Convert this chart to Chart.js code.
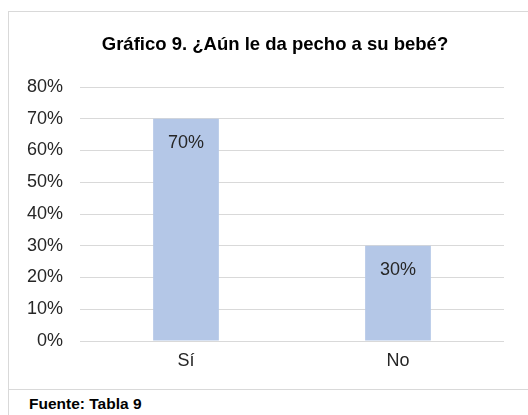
<!DOCTYPE html>
<html>
<head>
<meta charset="utf-8">
<script src="https://cdn.jsdelivr.net/npm/chart.js@4/dist/chart.umd.min.js"></script>
<style>
  html, body { margin: 0; padding: 0; background: #fff; width: 528px; height: 415px; overflow: hidden; position: relative; font-family: "Liberation Sans", Arial, sans-serif; }
  #box { position: absolute; left: 8px; top: 11px; width: 540px; height: 379px; border: 1px solid #d9d9d9; box-sizing: border-box; }
  #leftline { position: absolute; left: 8px; top: 389px; width: 1px; height: 30px; background: #d9d9d9; }
  #wrap { position: absolute; left: 0; top: 0; width: 528px; height: 389px; }
  #title { position: absolute; left: 75px; width: 400px; top: 33px; line-height: 22px; text-align: center; font-size: 18.5px; font-weight: bold; color: #000; white-space: nowrap; }
  #fuente { position: absolute; left: 29px; top: 395px; font-size: 15.5px; line-height: 18px; font-weight: bold; color: #000; white-space: nowrap; }
</style>
</head>
<body>
<div id="box"></div>
<div id="leftline"></div>
<div id="wrap"><canvas id="c" width="528" height="389"></canvas></div>
<div id="title"></div>
<div id="fuente">Fuente: Tabla 9</div>
<script>
const categories = ["Sí", "No"];
const values = [70, 30];
const yTicks = [0, 10, 20, 30, 40, 50, 60, 70, 80];
const titleText = "Gráfico 9. ¿Aún le da pecho a su bebé?";
document.getElementById("title").textContent = titleText;

const FONT = "'Liberation Sans', Arial, sans-serif";

const labelPlugin = {
  id: "barLabels",
  afterDatasetsDraw(chart) {
    const ctx = chart.ctx;
    const meta = chart.getDatasetMeta(0);
    ctx.save();
    ctx.font = "18px " + FONT;
    ctx.fillStyle = "#262626";
    ctx.textAlign = "center";
    ctx.textBaseline = "middle";
    meta.data.forEach((bar, i) => {
      ctx.fillText(values[i] + "%", bar.x, bar.y + 24);
    });
    ctx.restore();
  }
};

new Chart(document.getElementById("c"), {
  type: "bar",
  data: {
    labels: categories,
    datasets: [{
      data: values,
      backgroundColor: "#b4c7e7",
      borderWidth: 0,
      categoryPercentage: 1,
      barPercentage: 0.31
    }]
  },
  options: {
    responsive: false,
    animation: false,
    layout: { padding: { left: 0, right: 24, top: 87, bottom: 0 } },
    plugins: {
      legend: { display: false },
      tooltip: { enabled: false },
      title: { display: false }
    },
    scales: {
      x: {
        afterFit(s) { s.height = 48; },
        grid: { display: false, drawTicks: false },
        border: { display: false },
        ticks: { color: "#262626", padding: 9, font: { family: FONT, size: 18 } }
      },
      y: {
        min: 0,
        max: 80,
        afterFit(s) { s.width = 80; },
        afterBuildTicks(s) { s.ticks = yTicks.map(v => ({ value: v })); },
        grid: { color: "#d9d9d9", lineWidth: 1, drawTicks: false },
        border: { display: false },
        ticks: {
          color: "#262626",
          padding: 17,
          font: { family: FONT, size: 18 },
          callback: v => v + "%"
        }
      }
    }
  },
  plugins: [labelPlugin]
});
</script>
</body>
</html>
